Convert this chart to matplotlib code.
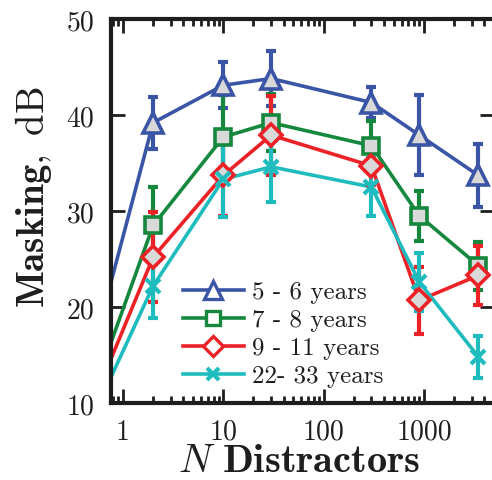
import numpy as np
import matplotlib
matplotlib.use('Agg')
import matplotlib.pyplot as plt
from matplotlib.ticker import LogLocator, FixedLocator, NullFormatter

plt.rcParams['font.family'] = 'serif'
plt.rcParams['font.serif'] = ['cmr10']
plt.rcParams['mathtext.fontset'] = 'cm'
plt.rcParams['axes.formatter.use_mathtext'] = True

# Number of distractors (first entry is the left-edge baseline, drawn without marker)
n_distractors = [0.76, 2, 10, 30, 300, 900, 3500]

groups = ["5 - 6 years", "7 - 8 years", "9 - 11 years", "22- 33 years"]

mask_5_6 = [22.6, 39.2, 43.1, 43.8, 41.3, 37.9, 33.7]
err_5_6 = [0, 2.7, 2.4, 2.9, 1.6, 4.2, 3.3]

mask_7_8 = [16.3, 28.5, 37.7, 39.2, 36.8, 29.5, 24.3]
err_7_8 = [0, 4.0, 4.4, 3.0, 2.6, 2.6, 2.5]

mask_9_11 = [14.6, 25.2, 33.7, 37.9, 34.7, 20.7, 23.3]
err_9_11 = [0, 4.7, 4.2, 4.1, 2.0, 3.5, 3.1]

mask_22_33 = [12.7, 22.2, 33.3, 34.6, 32.5, 22.6, 14.8]
err_22_33 = [0, 3.3, 3.9, 3.7, 3.0, 3.0, 2.2]

colors = ["#3a55a6", "#15883e", "#ec2227", "#1fbcbf"]
markers = ["^", "s", "D", "x"]
msizes = [15, 12, 11, 10]
leg_sizes = [13, 10, 10, 9]

fig = plt.figure(figsize=(4.92, 4.81), dpi=100)
ax = fig.add_axes([111 / 492, 1 - 404 / 481, (494 - 111) / 492, (404 - 20) / 481])

series = [(mask_5_6, err_5_6), (mask_7_8, err_7_8), (mask_9_11, err_9_11), (mask_22_33, err_22_33)]
x = np.array(n_distractors)
for i, (vals, errs) in enumerate(series):
    vals = np.array(vals)
    errs = np.array(errs)
    # line including baseline, no marker
    ax.plot(x, vals, '-', color=colors[i], lw=2.6, zorder=2)
    # error bars and markers at real data points
    ax.errorbar(x[1:], vals[1:], yerr=errs[1:], fmt='none', ecolor=colors[i],
                elinewidth=3, capsize=3.5, capthick=3, zorder=3)
    if markers[i] == 'x':
        ax.plot(x[1:], vals[1:], 'x', color=colors[i], ms=msizes[i], mew=3, zorder=4)
    else:
        ax.plot(x[1:], vals[1:], markers[i], color=colors[i], ms=msizes[i], mew=2.6,
                mfc='#d9d9d9', zorder=4)
    # legend handle
    if markers[i] == 'x':
        ax.plot([], [], '-x', color=colors[i], lw=2.6, ms=leg_sizes[i], mew=3, label=groups[i])
    else:
        ax.plot([], [], '-' + markers[i], color=colors[i], lw=2.6, ms=leg_sizes[i],
                mew=2.4, mfc='white', label=groups[i])

ax.set_xscale('log')
ax.set_xlim(0.76, 5000)
ax.set_ylim(10, 50)
ax.yaxis.set_major_locator(FixedLocator([10, 20, 30, 40, 50]))
ax.xaxis.set_major_locator(FixedLocator([1, 10, 100, 1000]))
ax.xaxis.set_minor_locator(LogLocator(base=10, subs=np.arange(2, 10), numticks=20))
ax.xaxis.set_minor_formatter(NullFormatter())
ax.set_xticklabels(["1", "10", "100", "1000"])
ax.set_yticklabels(["10", "20", "30", "40", "50"])

ax.tick_params(which='both', direction='in', top=True, right=True, width=2, labelsize=20, colors='#1e1e1e')
ax.tick_params(which='major', length=10)
ax.tick_params(axis='x', which='major', pad=11)
ax.tick_params(axis='y', which='major', pad=12)
ax.tick_params(which='minor', length=5)
for s in ax.spines.values():
    s.set_linewidth(3)
    s.set_color('#1e1e1e')

ax.set_ylabel(r'$\mathbf{Masking,}\ \mathrm{dB}$', fontsize=28, color='#1e1e1e')
ax.yaxis.set_label_coords(-0.15, 0.538)
ax.set_xlabel(r'$N\ \mathbf{Distractors}$', fontsize=29, color='#1e1e1e', va='baseline')
ax.xaxis.set_label_coords(0.492, -0.177)

leg = ax.legend(loc='lower left', bbox_to_anchor=(0.155, 0.008), frameon=False, fontsize=18,
                handlelength=2.45, handletextpad=0.3, labelspacing=0.22, borderpad=0)
for t in leg.get_texts():
    t.set_color('#1e1e1e')

fig.savefig('out.png', dpi=100)
